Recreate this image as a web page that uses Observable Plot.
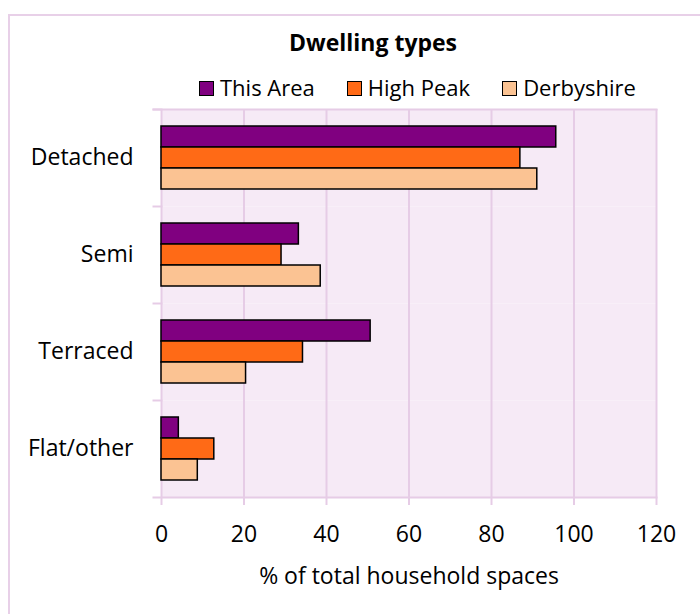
<!DOCTYPE html>
<html>
<head>
<meta charset="utf-8">
<script src="https://cdn.jsdelivr.net/npm/d3@7"></script>
<script src="https://cdn.jsdelivr.net/npm/@observablehq/plot@0.6"></script>
<style>
  html, body { margin: 0; padding: 0; background: #fff; }
  body { font-family: "Open Sans", sans-serif; }
  #wrap { position: relative; width: 700px; height: 614px; overflow: hidden; }
  #border { position: absolute; left: 8px; top: 14px; right: -10px; bottom: -10px;
            border-left: 2px solid #e8d0e8; border-top: 2px solid #e8d0e8; }
  #title { position: absolute; left: 73px; width: 600px; top: 31px; text-align: center;
           font-size: 23px; line-height: 23px; font-weight: bold; color: #000; }
  #legend { position: absolute; left: 199px; top: 76px; display: flex; align-items: center;
            font-size: 22px; line-height: 22px; color: #000; }
  .item { display: flex; align-items: center; margin-right: 32px; }
  .sw { width: 13px; height: 13px; border: 1.5px solid #000; margin-right: 6px; margin-top: 2px; }
  #chart { position: absolute; left: 0; top: 100px; }
</style>
</head>
<body>
<div id="wrap">
  <div id="border"></div>
  <div id="title"></div>
  <div id="legend"></div>
  <div id="chart"></div>
</div>
<script>
const title = "Dwelling types";
const xLabel = "% of total household spaces";
const categories = ["Detached", "Semi", "Terraced", "Flat/other"];
const series = ["This Area", "High Peak", "Derbyshire"];
const colors = ["#800080", "#ff6a16", "#fbc393"];
const thisArea = [95.7, 33.3, 50.7, 4.2];
const highPeak = [87.0, 29.1, 34.3, 12.8];
const derbyshire = [91.1, 38.6, 20.5, 8.8];
const xTicks = [0, 20, 40, 60, 80, 100, 120];

const valuesBySeries = [thisArea, highPeak, derbyshire];
const data = [];
categories.forEach((c, i) => {
  series.forEach((s, j) => data.push({cat: c, series: s, value: valuesBySeries[j][i]}));
});

document.getElementById("title").textContent = title;
const legend = document.getElementById("legend");
series.forEach((s, j) => {
  const it = document.createElement("div");
  it.className = "item";
  const sw = document.createElement("div");
  sw.className = "sw";
  sw.style.background = colors[j];
  const t = document.createElement("span");
  t.textContent = s;
  it.appendChild(sw); it.appendChild(t);
  legend.appendChild(it);
});

const bg = "#f6eaf6";
const grid = "#e6cce6";
const font = "'Open Sans', sans-serif";

const chart = Plot.plot({
  width: 700,
  height: 514,
  marginTop: 8,
  marginLeft: 161,
  marginRight: 44,
  marginBottom: 117,
  style: {fontFamily: font, fontSize: "23px", color: "#000", background: "transparent"},
  x: {domain: [0, 120], axis: null},
  y: {domain: series, paddingInner: 0, paddingOuter: 0.73, axis: null},
  fy: {domain: categories, padding: 0, axis: null},
  color: {domain: series, range: colors},
  marks: [
    Plot.frame({fill: bg}),
    Plot.gridX({ticks: xTicks, stroke: grid, strokeOpacity: 1, strokeWidth: 2}),
    Plot.frame({anchor: "top", stroke: grid, strokeWidth: 2, insetLeft: -8, insetRight: 495}),
    Plot.frame({anchor: "top", stroke: grid, strokeWidth: 2, insetLeft: -8, fy: [categories[0]]}),
    Plot.frame({anchor: "bottom", stroke: grid, strokeWidth: 2, insetLeft: -8, fy: [categories[categories.length - 1]]}),
    Plot.barX(data, {fy: "cat", y: "series", x: "value", fill: "series", stroke: "#000", strokeWidth: 1.5}),
    Plot.axisFy({anchor: "left", tickSize: 0, tickPadding: 28, fontSize: 23, label: null}),
    Plot.axisX({ticks: xTicks, tickSize: 8, tickPadding: 20, stroke: grid, strokeWidth: 2, fill: "#000", fontSize: 23,
                label: xLabel, labelAnchor: "center", labelArrow: "none", labelOffset: 86, tickFormat: d => String(d)})
  ]
});
document.getElementById("chart").appendChild(chart);
</script>
</body>
</html>
